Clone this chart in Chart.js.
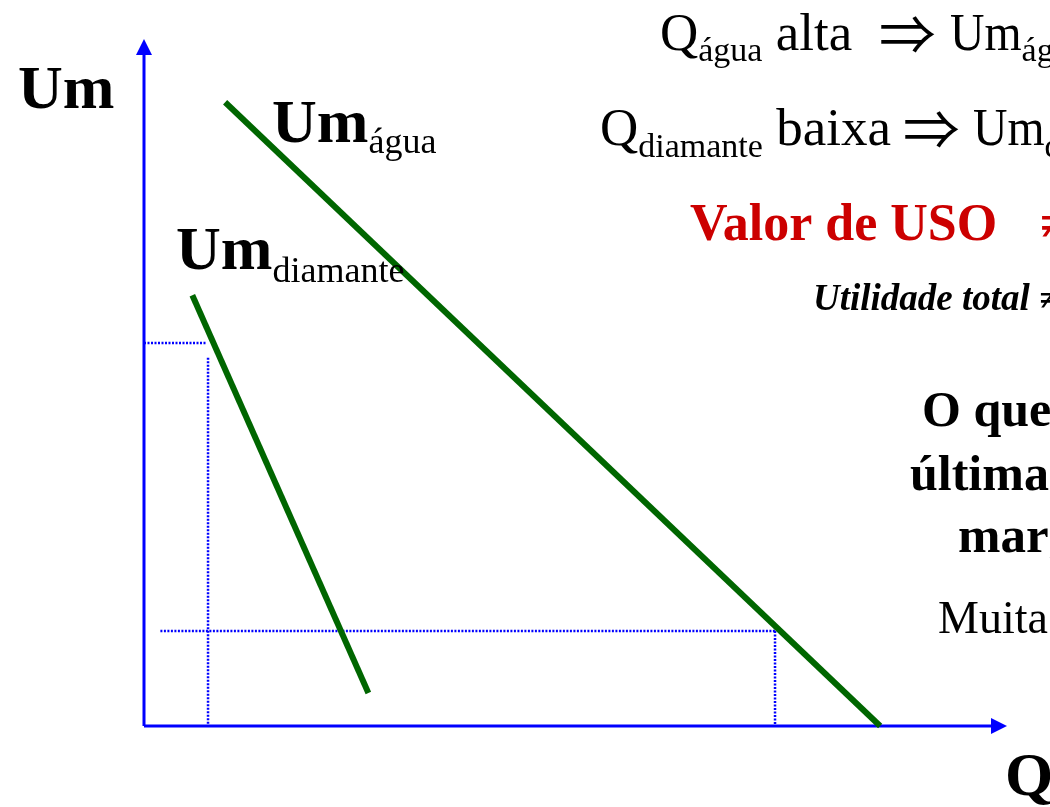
<!DOCTYPE html>
<html>
<head>
<meta charset="utf-8">
<script src="https://cdn.jsdelivr.net/npm/chart.js@4.4.0/dist/chart.umd.min.js"></script>
<style>
  html, body { margin: 0; padding: 0; background: #fff; }
  #wrap { width: 1050px; height: 807px; }
</style>
</head>
<body>
<div id="wrap"><canvas id="chart" width="1050" height="807"></canvas></div>
<script>
// marginal utility curves, (Q, Um) in axis units (0..100 on both axes)
const aguaQ = [9.4, 85.3];
const aguaUm = [90.8, 0];
const diamanteQ = [5.6, 26.0];
const diamanteUm = [62.7, 4.8];

// dotted guide lines
const guideHighQ = [0, 7.2];
const guideHighUm = [55.75, 55.75];
const guideHighDropQ = [7.42, 7.42];
const guideHighDropUm = [53.6, 0];
const guideLowQ = [1.9, 73.12];
const guideLowUm = [13.83, 13.83];
const guideLowDropQ = [73.12, 73.12];
const guideLowDropUm = [13.83, 0];

const axisMax = 100;

const GREEN = '#006600';
const BLUE = '#0000ff';
const RED = '#cc0000';
const SERIF = '"Liberation Serif", "Times New Roman", serif';

function pts(xs, ys) {
    return xs.map((x, i) => ({ x: x, y: ys[i] }));
}

function curve(xs, ys) {
    return { data: pts(xs, ys), borderColor: GREEN, borderWidth: 6, order: 0 };
}

function guide(xs, ys) {
    return { data: pts(xs, ys), borderColor: BLUE, borderWidth: 2.5, borderDash: [2, 1.5], order: 1 };
}

function axisLine(xs, ys) {
    return { data: pts(xs, ys), borderColor: BLUE, borderWidth: 3, order: 2 };
}

// text pieces: each run continues where the previous ended (or at `at`),
// dy shifts subscripts down, sx stretches a run horizontally
const f = (size, style) => (style ? style + ' ' : '') + size + 'px ' + SERIF;
const ARROW = '54px "Noto Sans CJK JP", sans-serif';
const labels = [
    { x: 18, y: 108, runs: [{ t: 'Um', font: f(62, 'bold') }] },
    { x: 272, y: 142, runs: [{ t: 'Um', font: f(62, 'bold') }, { t: 'água', font: f(36), dy: 11 }] },
    { x: 176, y: 269, runs: [{ t: 'Um', font: f(62, 'bold') }, { t: 'diamante', font: f(36), dy: 13 }] },
    { x: 660, y: 50, runs: [
        { t: 'Q', font: f(53) }, { t: 'água', font: f(34), dy: 11 },
        { t: ' alta', font: f(53) },
        { t: '\u21D2', font: ARROW, at: 879, sx: 1.05, dy: 5 },
        { t: 'Um', font: f(53), at: 950, sx: 0.9 }, { t: 'água', font: f(34), dy: 11 }, { t: ' baixa', font: f(53) }] },
    { x: 600, y: 145, runs: [
        { t: 'Q', font: f(53) }, { t: 'diamante', font: f(34), dy: 12 },
        { t: ' baixa', font: f(53) },
        { t: '\u21D2', font: ARROW, at: 903, sx: 1.05, dy: 5 },
        { t: 'Um', font: f(53), at: 973, sx: 0.9 }, { t: 'diamante', font: f(34), dy: 12 }, { t: ' alta', font: f(53) }] },
    { x: 690, y: 240, runs: [{ t: 'Valor de USO', font: f(52, 'bold'), color: RED }] },
    { x: 1040, y: 240, runs: [{ t: '\u2260 Valor de TROCA', font: f(52, 'bold'), color: RED }] },
    { x: 813, y: 310, runs: [{ t: 'Utilidade total \u2260 Utilidade marginal', font: f(37, 'italic bold') }] },
    { x: 922, y: 426, runs: [{ t: 'O que importa', font: f(50, 'bold') }] },
    { x: 910, y: 490, runs: [{ t: 'última unidade', font: f(50, 'bold') }] },
    { x: 958, y: 552, runs: [{ t: 'marginal', font: f(51, 'bold') }] },
    { x: 938, y: 633, runs: [{ t: 'Muita água', font: f(46) }] },
    { x: 1005, y: 795, runs: [{ t: 'Q', font: f(62, 'bold') }] }
];

const slideText = {
    id: 'slideText',
    afterDatasetsDraw(chart) {
        const ctx = chart.ctx;
        const xs = chart.scales.x;
        const ys = chart.scales.y;
        const ox = xs.getPixelForValue(0);
        const oy = ys.getPixelForValue(0);
        const tipX = xs.getPixelForValue(axisMax);
        const tipY = ys.getPixelForValue(axisMax);

        // arrowheads at the axis ends
        ctx.save();
        ctx.fillStyle = BLUE;
        ctx.beginPath();
        ctx.moveTo(ox, tipY);
        ctx.lineTo(ox - 8, tipY + 16);
        ctx.lineTo(ox + 8, tipY + 16);
        ctx.closePath();
        ctx.fill();
        ctx.beginPath();
        ctx.moveTo(tipX, oy);
        ctx.lineTo(tipX - 16, oy - 8);
        ctx.lineTo(tipX - 16, oy + 8);
        ctx.closePath();
        ctx.fill();

        ctx.textBaseline = 'alphabetic';
        ctx.textAlign = 'left';
        labels.forEach(l => {
            let x = l.x;
            l.runs.forEach(r => {
                if (r.at !== undefined) x = r.at;
                const sx = r.sx || 1;
                ctx.font = r.font;
                ctx.fillStyle = r.color || '#000';
                ctx.save();
                ctx.translate(x, l.y + (r.dy || 0));
                ctx.scale(sx, 1);
                ctx.fillText(r.t, 0, 0);
                ctx.restore();
                x += ctx.measureText(r.t).width * sx;
            });
        });
        ctx.restore();
    }
};

new Chart(document.getElementById('chart'), {
    type: 'scatter',
    data: {
        datasets: [
            curve(aguaQ, aguaUm),
            curve(diamanteQ, diamanteUm),
            guide(guideHighQ, guideHighUm),
            guide(guideHighDropQ, guideHighDropUm),
            guide(guideLowQ, guideLowUm),
            guide(guideLowDropQ, guideLowDropUm),
            axisLine([0, 0], [0, axisMax - 1]),
            axisLine([0, axisMax - 1], [0, 0])
        ].map(d => Object.assign(d, { showLine: true, pointRadius: 0, pointHoverRadius: 0, fill: false, clip: false }))
    },
    options: {
        responsive: false,
        animation: false,
        layout: { padding: { left: 144, right: 43, top: 39, bottom: 81 } },
        plugins: { legend: { display: false }, tooltip: { enabled: false } },
        scales: {
            x: { type: 'linear', min: 0, max: axisMax, display: false },
            y: { type: 'linear', min: 0, max: axisMax, display: false }
        }
    },
    plugins: [slideText]
});
</script>
</body>
</html>
